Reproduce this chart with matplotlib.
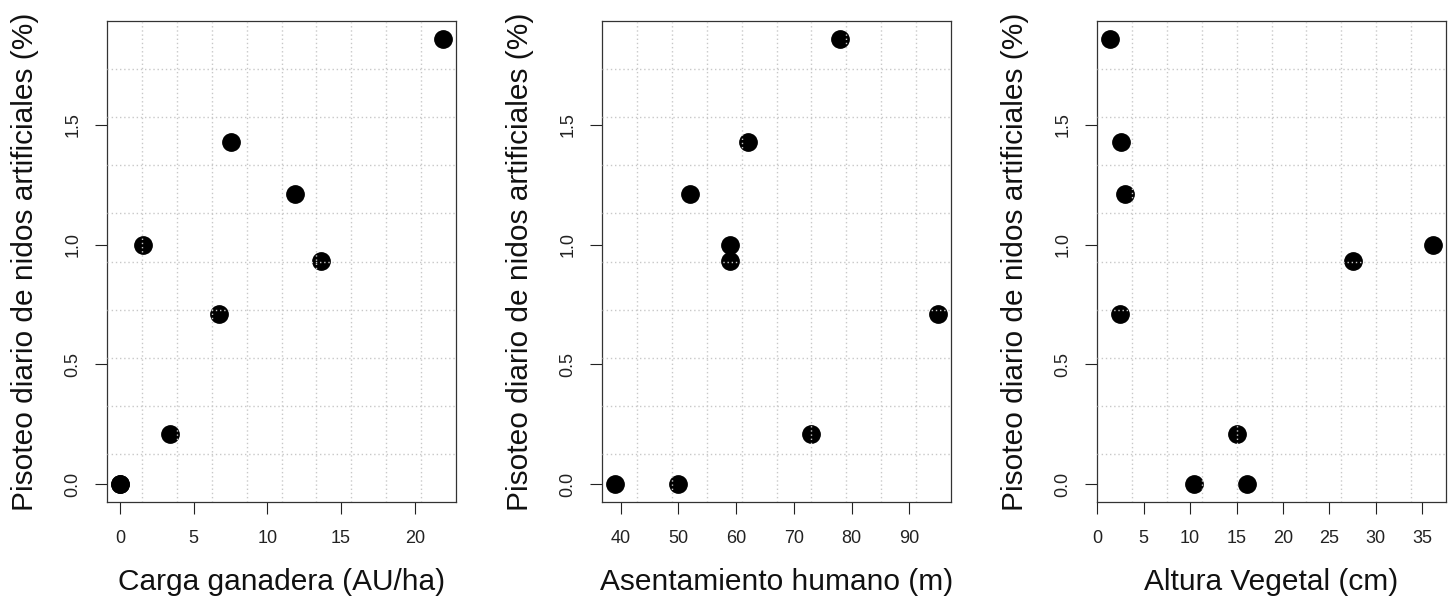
import numpy as np
import matplotlib.pyplot as plt

plt.rcParams['font.family'] = ['Liberation Sans', 'DejaVu Sans']

##### daily trampling of artificial nests (%), one value per site
pisoteo = [0, 0, 0.21, 0.71, 0.93, 1.0, 1.21, 1.43, 1.86]

##### explanatory variables, same site order
carga = [0, 0, 3.37, 6.74, 13.65, 1.54, 11.89, 7.55, 21.92]
asentamiento = [39, 50, 73, 95, 59, 59, 52, 62, 78]
altura = [10.45, 16.08, 15.0, 2.4, 27.57, 36.18, 3.01, 2.51, 1.36]

xlabels = ['Carga ganadera (AU/ha)', 'Asentamiento humano (m)', 'Altura Vegetal (cm)']
xticks = [[0, 5, 10, 15, 20], [40, 50, 60, 70, 80, 90], [0, 5, 10, 15, 20, 25, 30, 35]]
yticks = [0.0, 0.5, 1.0, 1.5]
ylabel = 'Pisoteo diario de nidos artificiales (%)'

W, H = 1451, 599
fig = plt.figure(figsize=(W / 100, H / 100), dpi=100)

lefts = [107, 602, 1097]
pw, top, bottom = 349, 21, 502

for i, xs in enumerate([carga, asentamiento, altura]):
    ax = fig.add_axes([lefts[i] / W, 1 - bottom / H, pw / W, (bottom - top) / H])
    ax.plot(xs, pisoteo, 'o', color='black', ms=12.5, zorder=2)
    ax.margins(0.04)
    # grid like R's grid(10, 10): equal divisions of the plot region
    x0, x1 = ax.get_xlim()
    y0, y1 = ax.get_ylim()
    for gx in np.linspace(x0, x1, 11)[1:-1]:
        ax.axvline(gx, color='#c8c8c8', ls=(0, (1, 2)), lw=1, zorder=3)
    for gy in np.linspace(y0, y1, 11)[1:-1]:
        ax.axhline(gy, color='#c8c8c8', ls=(0, (1, 2)), lw=1, zorder=3)
    ax.set_xlim(x0, x1)
    ax.set_ylim(y0, y1)
    ax.set_xticks(xticks[i])
    ax.set_yticks(yticks)
    ax.set_yticklabels(['%.1f' % v for v in yticks], rotation=90, va='center')
    ax.tick_params(axis='both', length=8.5, width=0.8, labelsize=13, colors='#222222')
    ax.tick_params(axis='x', pad=12)
    ax.tick_params(axis='y', pad=10)
    for s in ax.spines.values():
        s.set_linewidth(0.9)
        s.set_color('#333333')
    ax.text(0.5, -0.167, xlabels[i], transform=ax.transAxes, ha='center', va='center',
            fontsize=21.5, color='#111111')
    ax.text(-0.235, 0.5, ylabel, transform=ax.transAxes, ha='center', va='center',
            rotation=90, fontsize=21.5, color='#111111')

plt.savefig('out.png', dpi=100)
